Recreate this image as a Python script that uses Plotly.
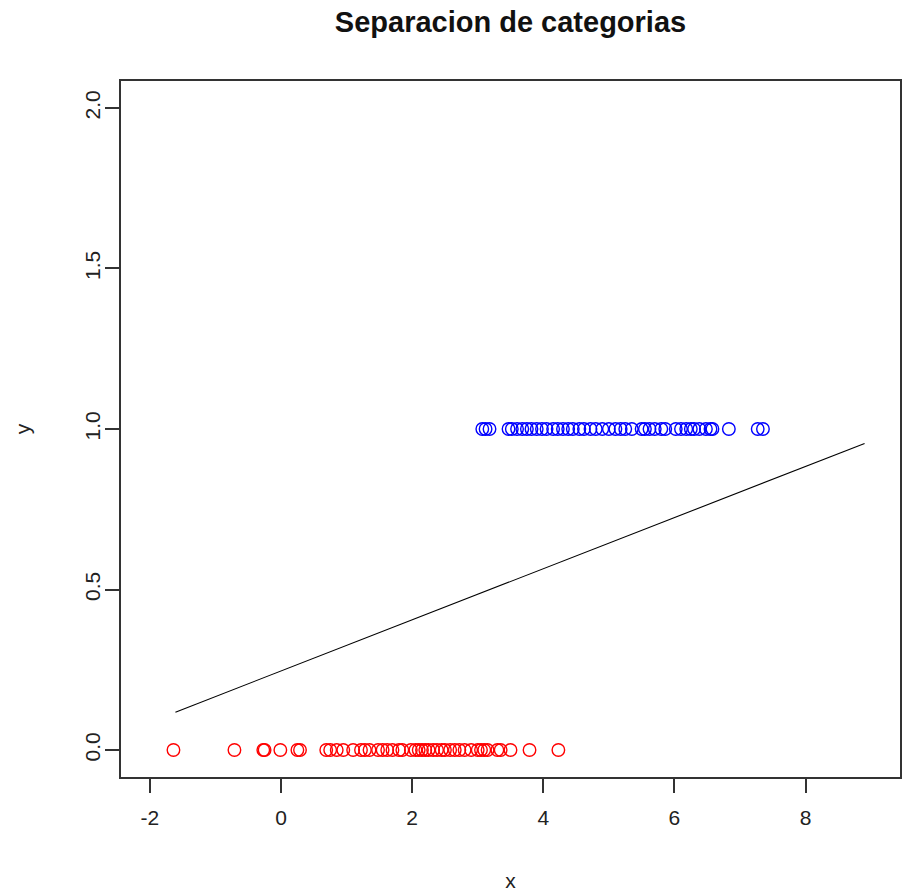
import plotly.graph_objects as go

red_x = [-1.64, -0.71, -0.27, -0.25, -0.01, 0.25, 0.29, 0.69, 0.75, 0.85, 0.95,
         1.10, 1.22, 1.28, 1.35, 1.48, 1.55, 1.62, 1.70, 1.80, 1.85, 1.98, 2.05,
         2.10, 2.15, 2.20, 2.25, 2.32, 2.38, 2.45, 2.50, 2.58, 2.65, 2.72, 2.80,
         2.90, 3.00, 3.05, 3.10, 3.15, 3.30, 3.35, 3.50, 3.79, 4.23]
red_y = [0] * len(red_x)

blue_x = [3.07, 3.12, 3.18, 3.47, 3.52, 3.60, 3.68, 3.75, 3.82, 3.90, 3.98,
          4.05, 4.15, 4.22, 4.30, 4.38, 4.45, 4.55, 4.62, 4.72, 4.80, 4.90,
          5.00, 5.10, 5.18, 5.25, 5.35, 5.50, 5.55, 5.62, 5.70, 5.80, 5.86,
          6.02, 6.10, 6.18, 6.25, 6.30, 6.38, 6.48, 6.55, 6.58, 6.83, 7.27, 7.35]
blue_y = [1] * len(blue_x)

line_x = [-1.61, 8.90]
line_y = [0.118, 0.955]

x_ticks = [-2, 0, 2, 4, 6, 8]
y_ticks = [0.0, 0.5, 1.0, 1.5, 2.0]
y_tick_text = ["0.0", "0.5", "1.0", "1.5", "2.0"]

FONT = "Liberation Sans, Arial, Helvetica, sans-serif"

fig = go.Figure()
fig.add_trace(go.Scatter(x=red_x, y=red_y, mode="markers",
                         marker=dict(symbol="circle-open", size=12.5, color="#FF0000",
                                     line=dict(width=1.4, color="#FF0000"))))
fig.add_trace(go.Scatter(x=blue_x, y=blue_y, mode="markers",
                         marker=dict(symbol="circle-open", size=12.5, color="#0000FF",
                                     line=dict(width=1.4, color="#0000FF"))))
fig.add_trace(go.Scatter(x=line_x, y=line_y, mode="lines",
                         line=dict(color="black", width=1.1)))

fig.update_layout(
    width=903, height=892,
    margin=dict(l=121, r=1, t=81, b=115),
    paper_bgcolor="white", plot_bgcolor="white",
    showlegend=False,
    font=dict(family=FONT, color="#222", size=21),
    title=dict(text="<b>Separacion de categorias</b>", x=0.5, xref="paper",
               xanchor="center", y=1 - 22 / 892, yref="container", yanchor="middle",
               font=dict(family=FONT, size=29, color="#111")),
    xaxis=dict(range=[-2.44, 9.44], tickvals=x_ticks, ticktext=[str(v) for v in x_ticks],
               showgrid=False, zeroline=False, showline=True, mirror=True,
               linecolor="#333", linewidth=1.5, ticks="outside", ticklen=14,
               tickwidth=1.5, tickcolor="#333", ticklabelstandoff=7,
               tickfont=dict(size=21, family=FONT, color="#222"),
               title=dict(text="x", font=dict(size=21, family=FONT, color="#222"), standoff=46)),
    yaxis=dict(range=[-0.084, 2.084], tickvals=y_ticks, ticktext=y_tick_text,
               showgrid=False, zeroline=False, showline=True, mirror=True,
               linecolor="#333", linewidth=1.5, ticks="outside", ticklen=14,
               tickwidth=1.5, tickcolor="#333", tickangle=-90, ticklabelstandoff=-3,
               tickfont=dict(size=21, family=FONT, color="#222"),
               title=dict(text="y", font=dict(size=21, family=FONT, color="#222"), standoff=44)),
)

fig.write_html("out.html")
